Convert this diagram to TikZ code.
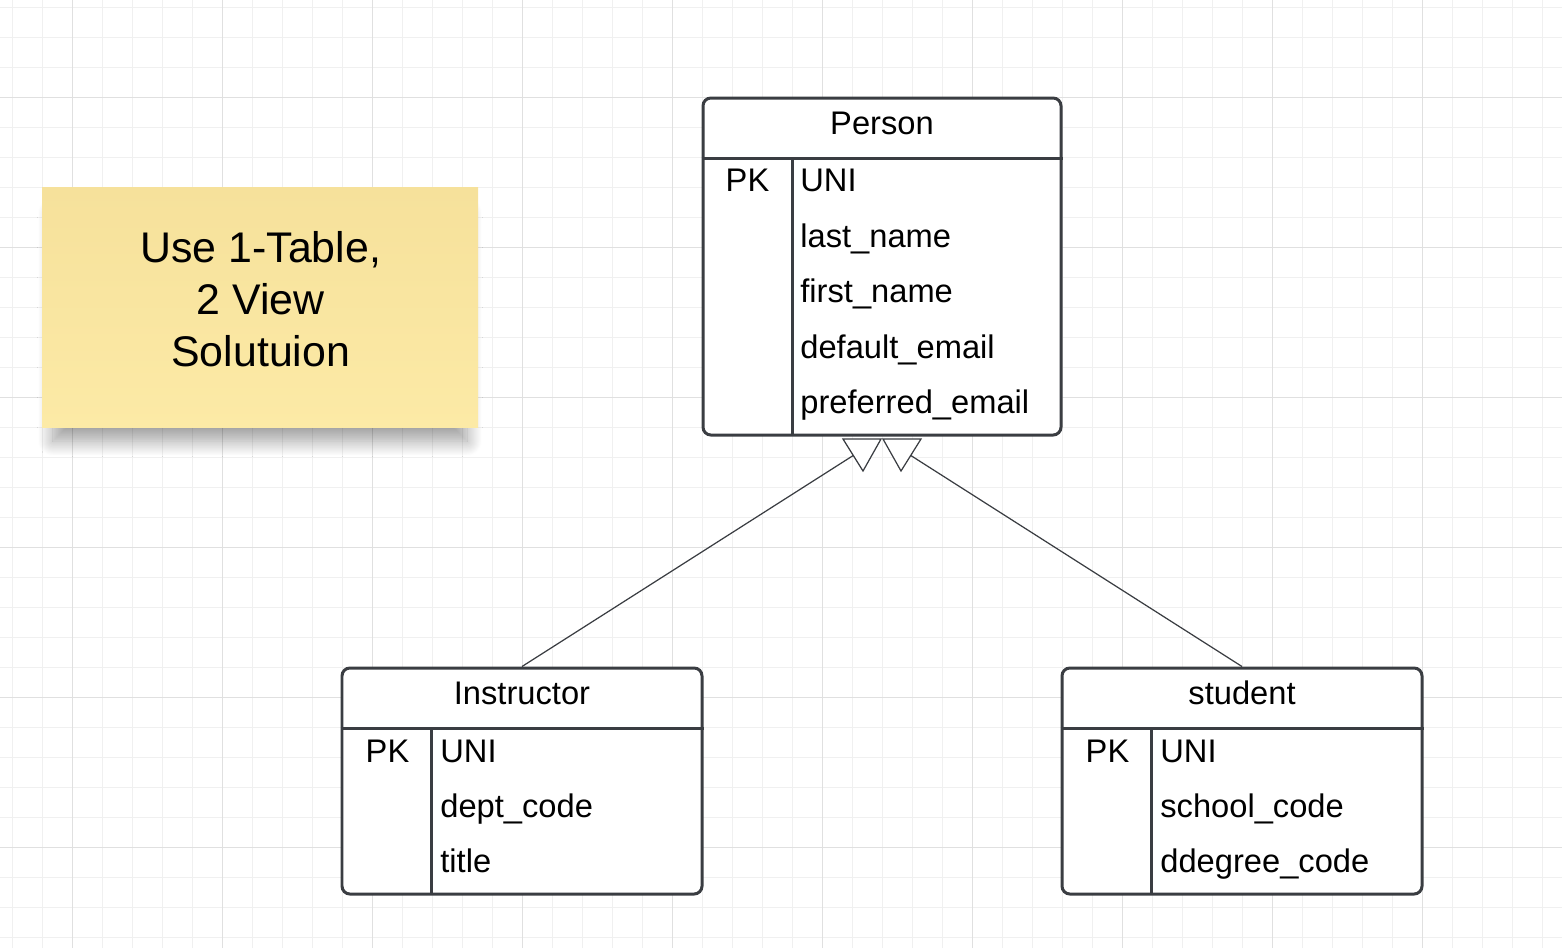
\documentclass[tikz,border=0pt]{standalone}
\usepackage{fontspec}
\setmainfont{Liberation Sans}
\usepackage{xcolor}
\usetikzlibrary{positioning, fit, shadows.blur}
\definecolor{GridMinor}{HTML}{F0F0F0}
\definecolor{GridMajor}{HTML}{E0E0E0}
\definecolor{TblLine}{HTML}{3A3D42}
\definecolor{NoteTop}{HTML}{F6E19B}
\definecolor{NoteBot}{HTML}{FCEAA6}

\begin{document}
\begin{tikzpicture}[x=0.02cm, y=-0.02cm,
    tbl/.style={draw=TblLine, line width=1.7pt, rounded corners=4.5pt, fill=white, inner sep=0pt},
    tblrule/.style={TblLine, line width=1.7pt},
    fld/.style={anchor=base west, inner sep=0pt, font=\fontsize{18.6}{22}\selectfont},
    ttl/.style={anchor=base, inner sep=0pt, font=\fontsize{18.6}{22}\selectfont},
    link/.style={TblLine, line width=0.7pt},
    gen/.style={draw=TblLine, line width=0.7pt, fill=white, line join=miter}]
  \useasboundingbox (0,0) rectangle (1562,948);
  % grid
  \foreach \x in {12,42,...,1562} \draw[GridMinor, line width=0.55pt] (\x,0) -- (\x,948);
  \foreach \y in {7,37,...,948} \draw[GridMinor, line width=0.55pt] (0,\y) -- (1562,\y);
  \foreach \x in {72,222,...,1562} \draw[GridMajor, line width=0.55pt] (\x,0) -- (\x,948);
  \foreach \y in {97,247,...,948} \draw[GridMajor, line width=0.55pt] (0,\y) -- (1562,\y);

  % sticky note
  \node[top color=NoteTop, bottom color=NoteBot, inner sep=0pt,
        blur shadow={shadow xshift=0pt, shadow yshift=-12pt, shadow scale=0.95,
          shadow blur radius=9pt, shadow blur steps=24, shadow opacity=38},
        fit={(42,187) (478,427)}] (note) {};
  \node[align=center, font=\fontsize{24.4}{29.6}\selectfont] (notetext) at (260.7,299)
    {Use 1-Table,\\2 View\\Solutuion};

  % Person
  \node[tbl, fit={(703,98) (1061,435)}] (person) {};
  \draw[tblrule] (person.west |- 0,158) -- (person.east |- 0,158);
  \draw[tblrule] (792,158) -- (792,435);
  \node[ttl] (person-title) at (882,134.3) {Person};
  \node[ttl] (person-pk) at (747.5,191.9) {PK};
  \foreach \f [count=\i] in {UNI, last\_name, first\_name, default\_email, preferred\_email}
    \node[fld] (person-f\i) at (800,136.5+55.4*\i) {\f};

  % Instructor
  \node[tbl, fit={(342,668) (702,894)}] (instructor) {};
  \draw[tblrule] (instructor.west |- 0,728.3) -- (instructor.east |- 0,728.3);
  \draw[tblrule] (431.7,728.3) -- (431.7,894);
  \node[ttl] (instructor-title) at (522,704.3) {Instructor};
  \node[ttl] (instructor-pk) at (387.5,762.5) {PK};
  \foreach \f [count=\i] in {UNI, dept\_code, title}
    \node[fld] (instructor-f\i) at (440,707.5+55*\i) {\f};

  % student
  \node[tbl, fit={(1062,668) (1422,894)}] (student) {};
  \draw[tblrule] (student.west |- 0,728.3) -- (student.east |- 0,728.3);
  \draw[tblrule] (1151.7,728.3) -- (1151.7,894);
  \node[ttl] (student-title) at (1242,704.3) {student};
  \node[ttl] (student-pk) at (1107.5,762.5) {PK};
  \foreach \f [count=\i] in {UNI, school\_code, ddegree\_code}
    \node[fld] (student-f\i) at (1160,707.5+55*\i) {\f};

  % generalisation
  \coordinate (gen-inst) at (862.3,449.7);
  \coordinate (gen-stud) at (901.7,449.7);
  \draw[link] (instructor.north) -- (gen-inst);
  \draw[link] (student.north) -- (gen-stud);
  \draw[gen] (843,439) -- (881,439) -- (863,471) -- cycle;
  \draw[gen] (883,439) -- (921,439) -- (901,471) -- cycle;
\end{tikzpicture}
\end{document}
